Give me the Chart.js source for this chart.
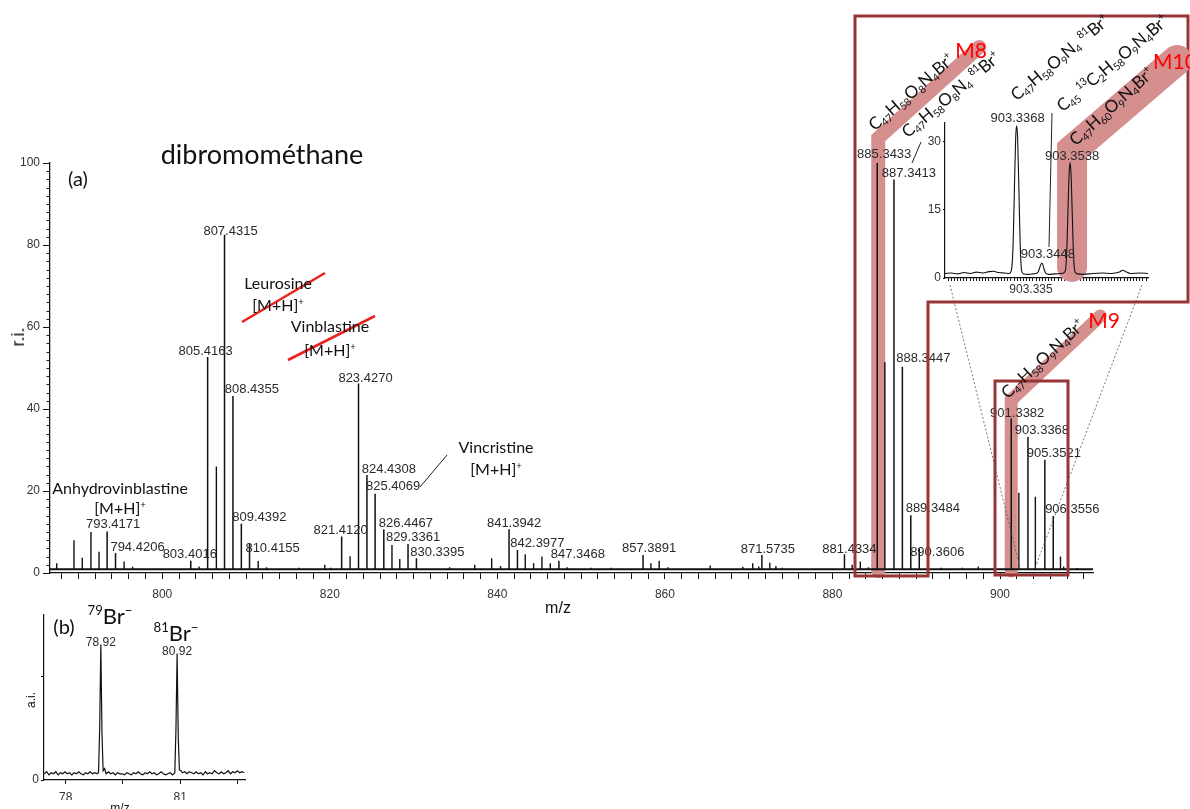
<!DOCTYPE html>
<html>
<head>
<meta charset="utf-8">
<title>dibromométhane</title>
<script src="https://cdn.jsdelivr.net/npm/chart.js@4.4.1/dist/chart.umd.min.js"></script>
<style>
html, body { margin: 0; padding: 0; background: #fff; }
#page { position: relative; width: 1190px; height: 809px; overflow: hidden; font-family: Lato, "Open Sans", sans-serif; color: #111; }
canvas { position: absolute; }
#main { left: 0; top: 0; }
#inset { left: 880px; top: 20px; }
#panelB { left: 0; top: 600px; }
.c { position: absolute; transform: translate(-50%, -50%); white-space: nowrap; line-height: 1; }
.ann { font-size: 16px; }
.c sup { font-size: 0.6em; vertical-align: 0.65em; line-height: 0; }
.ax { font-family: "Liberation Sans", Arial, sans-serif; }
.f { position: absolute; white-space: nowrap; line-height: 1; font-size: 17px; letter-spacing: -0.3px; transform-origin: 0 100%; }
.f sub { font-size: 0.62em; vertical-align: -0.3em; line-height: 0; }
.f sup { font-size: 0.62em; vertical-align: 0.65em; line-height: 0; }
.m { position: absolute; color: #ff0000; font-size: 21px; line-height: 1; transform: translate(-50%, -50%); }
</style>
</head>
<body>
<div id="page">
  <canvas id="main" width="1190" height="809"></canvas>
  <canvas id="inset" width="310" height="290"></canvas>
  <canvas id="panelB" width="260" height="209"></canvas>

  <!-- panel (a) texts -->
  <div class="c" style="left:262px;top:153px;font-size:27px;">dibromométhane</div>
  <div class="c" style="left:78px;top:178px;font-size:20px;">(a)</div>
  <div class="c ax" style="left:18px;top:337px;font-size:18px;transform:translate(-50%,-50%) rotate(-90deg);">r.i.</div>
  <div class="c ax" style="left:558px;top:608px;font-size:16px;">m/z</div>

  <div class="c ann" style="left:120px;top:488px;">Anhydrovinblastine</div>
  <div class="c ann" style="left:120px;top:508px;">[M+H]<sup>+</sup></div>
  <div class="c ann" style="left:278px;top:283px;">Leurosine</div>
  <div class="c ann" style="left:278px;top:305px;">[M+H]<sup>+</sup></div>
  <div class="c ann" style="left:330px;top:326px;">Vinblastine</div>
  <div class="c ann" style="left:330px;top:350px;">[M+H]<sup>+</sup></div>
  <div class="c ann" style="left:496px;top:447px;">Vincristine</div>
  <div class="c ann" style="left:496px;top:469px;">[M+H]<sup>+</sup></div>

  <!-- formulas along the highlight bands -->
  <div class="f" style="left:876px;bottom:676px;transform:rotate(-41deg);">C<sub>47</sub>H<sub>58</sub>O<sub>8</sub>N<sub>4</sub>Br<sup>+</sup></div>
  <div class="f" style="left:909px;bottom:669px;transform:rotate(-40deg);">C<sub>47</sub>H<sub>58</sub>O<sub>8</sub>N<sub>4</sub>&nbsp;<sup>81</sup>Br<sup>+</sup></div>
  <div class="f" style="left:1018px;bottom:706px;transform:rotate(-40deg);">C<sub>47</sub>H<sub>58</sub>O<sub>9</sub>N<sub>4</sub>&nbsp;<sup>81</sup>Br<sup>+</sup></div>
  <div class="f" style="left:1064px;bottom:695px;transform:rotate(-40deg);">C<sub>45</sub>&nbsp;<sup>13</sup>C<sub>2</sub>H<sub>58</sub>O<sub>9</sub>N<sub>4</sub>Br<sup>+</sup></div>
  <div class="f" style="left:1077px;bottom:661px;transform:rotate(-42deg);">C<sub>47</sub>H<sub>60</sub>O<sub>9</sub>N<sub>4</sub>Br<sup>+</sup></div>
  <div class="f" style="left:1009px;bottom:408px;transform:rotate(-43deg);">C<sub>47</sub>H<sub>58</sub>O<sub>9</sub>N<sub>4</sub>Br<sup>+</sup></div>
  <div class="m" style="left:971px;top:49px;">M8</div>
  <div class="m" style="left:1175px;top:60px;">M10</div>
  <div class="m" style="left:1104px;top:319px;">M9</div>

  <!-- panel (b) texts -->
  <div class="c" style="left:64px;top:626px;font-size:20px;">(b)</div>
  <div class="c" style="left:110px;top:616px;font-size:22px;"><sup>79</sup>Br<sup>&minus;</sup></div>
  <div class="c" style="left:176px;top:633px;font-size:22px;"><sup>81</sup>Br<sup>&minus;</sup></div>
  <div class="c ax" style="left:31px;top:700px;font-size:12px;transform:translate(-50%,-50%) rotate(-90deg);">a.i.</div>
  <div class="c ax" style="left:120px;top:808px;font-size:12px;">m/z</div>
</div>

<script>
// ---------- spectrum (a): labelled peaks ----------
const labeledMz = [793.4171, 794.4206, 803.4016, 805.4163, 807.4315, 808.4355, 809.4392, 810.4155,
  821.4120, 823.4270, 824.4308, 825.4069, 826.4467, 829.3361, 830.3395, 841.3942, 842.3977,
  847.3468, 857.3891, 871.5735, 881.4334, 885.3433, 887.3413, 888.3447, 889.3484, 890.3606,
  901.3382, 903.3368, 905.3521, 906.3556];
const labeledIntensity = [10.1, 4.9, 3.0, 52.7, 82.5, 43.2, 12.0, 7.3,
  8.9, 46.2, 23.9, 19.3, 10.7, 7.1, 3.6, 10.7, 5.6,
  3.0, 4.4, 4.4, 4.6, 100, 96.0, 50.3, 14.1, 6.0,
  37.7, 33.2, 27.6, 13.9];

// ---------- spectrum (a): other peaks ----------
const otherMz = [787.4, 789.46, 790.45, 791.49, 792.45, 795.45, 796.46, 804.40, 806.46, 811.45,
  812.45, 816.3, 819.40, 820.1, 822.42, 827.42, 828.35, 834.3, 837.30, 839.32, 840.38, 843.33,
  844.33, 845.32, 846.32, 848.33, 851.2, 853.6, 858.33, 859.32, 860.35, 865.4, 869.3, 870.48,
  871.2, 872.52, 873.25, 874.0, 882.35, 883.32, 884.3, 886.25, 891.3, 893.0, 895.5, 897.4,
  902.25, 904.22, 907.22, 907.6, 909.2];
const otherIntensity = [2.4, 8.0, 3.7, 10.0, 5.2, 2.8, 1.5, 1.6, 26.0, 2.9,
  1.4, 1.3, 2.0, 1.3, 4.1, 6.8, 3.4, 1.4, 2.0, 3.6, 1.7, 4.6,
  2.4, 4.0, 2.4, 1.4, 1.3, 1.3, 2.4, 3.0, 1.4, 1.8, 1.5, 2.4,
  1.6, 2.5, 1.7, 1.3, 2.0, 2.8, 1.4, 51.4, 1.3, 1.3, 1.3, 1.6,
  19.6, 18.6, 4.0, 1.6, 1.2];
const baselineLevel = 0.9;

// axis ticks of (a)
const mainXTickLabels = [800, 820, 840, 860, 880, 900];
const mainXMinorFirst = 788, mainXMinorLast = 910, mainXMinorStep = 2;
const mainYTickLabels = [0, 20, 40, 60, 80, 100];
const mainYMinorStep = 2;

// label placement next to each labelled peak (pixels)
const labelShift = [[6,-7],[22,-5],[-1,-6],[-2,-6],[6,-3],[19,-6],[18,-6],[23,5],
  [-1,-6],[7,-5],[22,-6],[18,-7],[22,-6],[5,-6],[21,-6],[5,-6],[20,-7],
  [19,-6],[6,-7],[6,-6],[5,-5],[7,-9],[15,-6],[21,-8],[22,-7],[18,4],
  [6,-5],[14,-6],[9,-6],[19,-7]];

// ---------- zoomed profile around 903.34 ----------
const insetMz = [903.3140, 903.3160, 903.3180, 903.3200, 903.3220, 903.3240, 903.3260, 903.3280,
  903.3295, 903.3310, 903.3330, 903.3345, 903.3352, 903.3357, 903.3361, 903.3365, 903.3368,
  903.3371, 903.3375, 903.3379, 903.3384, 903.3390, 903.3405, 903.3420, 903.3435, 903.3441,
  903.3445, 903.3448, 903.3451, 903.3455, 903.3461, 903.3470, 903.3490, 903.3510, 903.3522,
  903.3527, 903.3531, 903.3535, 903.3538, 903.3541, 903.3545, 903.3549, 903.3554, 903.3562,
  903.3580, 903.3610, 903.3640, 903.3670, 903.3695, 903.3705, 903.3715, 903.3730, 903.3760,
  903.3786];
const insetIntensity = [1.0, 1.1, 0.9, 1.2, 1.0, 1.3, 1.1, 1.4,
  1.5, 1.2, 1.1, 1.0, 2.0, 8.0, 20.0, 31.0, 33.5,
  31.0, 20.0, 8.0, 1.5, 0.9, 0.8, 0.9, 1.2, 2.2,
  3.0, 3.3, 3.0, 2.0, 1.0, 0.8, 0.9, 1.0, 1.4,
  5.0, 14.0, 23.0, 25.4, 23.0, 14.0, 5.0, 1.3, 0.9,
  0.8, 1.0, 1.1, 1.0, 1.3, 1.7, 1.4, 1.0, 1.1,
  1.0];
const insetLabelMz = [903.3368, 903.3448, 903.3538];
const insetLabelIntensity = [33.5, 3.3, 25.4];
const insetLabelShift = [[1,-7],[6,-9],[2,-6]];
const insetXTickLabels = [903.335];
const insetXMinorFirst = 903.315, insetXMinorCount = 63, insetXMinorStep = 0.001;
const insetYTickLabels = [0, 15, 30];

// ---------- spectrum (b): bromide ions ----------
const panelBMz = [77.44, 77.50, 77.56, 77.62, 77.68, 77.74, 77.80, 77.86, 77.92, 77.98, 78.04, 78.10,
  78.16, 78.22, 78.28, 78.34, 78.40, 78.46, 78.52, 78.58, 78.64, 78.70, 78.76, 78.82, 78.86,
  78.89, 78.92, 78.95, 78.98, 79.02, 79.06, 79.12, 79.18, 79.24, 79.30, 79.36, 79.42, 79.48,
  79.54, 79.60, 79.66, 79.72, 79.78, 79.84, 79.90, 79.96, 80.02, 80.08, 80.14, 80.20, 80.26,
  80.32, 80.38, 80.44, 80.50, 80.56, 80.62, 80.68, 80.74, 80.80, 80.86, 80.89, 80.92, 80.95,
  80.98, 81.02, 81.06, 81.12, 81.18, 81.24, 81.30, 81.36, 81.42, 81.48, 81.54, 81.60, 81.66,
  81.72, 81.78, 81.84, 81.90, 81.96, 82.02, 82.08, 82.14, 82.20, 82.26, 82.32, 82.38, 82.44,
  82.50, 82.56, 82.62, 82.68];
const panelBIntensity = [0.06, 0.08, 0.05, 0.07, 0.06, 0.08, 0.05, 0.07, 0.06, 0.08, 0.06, 0.07,
  0.05, 0.07, 0.06, 0.08, 0.06, 0.05, 0.07, 0.06, 0.08, 0.06, 0.07, 0.06, 0.07,
  0.50, 1.307, 0.45, 0.09, 0.11, 0.06, 0.08, 0.06, 0.07, 0.05, 0.07, 0.06, 0.06,
  0.05, 0.07, 0.06, 0.05, 0.07, 0.06, 0.08, 0.06, 0.05, 0.07, 0.06, 0.08, 0.06,
  0.07, 0.05, 0.06, 0.08, 0.06, 0.05, 0.06, 0.07, 0.05, 0.07, 0.50, 1.22, 0.42,
  0.10, 0.09, 0.07, 0.08, 0.06, 0.08, 0.07, 0.06, 0.08, 0.06, 0.07, 0.05, 0.08,
  0.06, 0.07, 0.06, 0.09, 0.07, 0.06, 0.08, 0.06, 0.07, 0.09, 0.06, 0.08, 0.07,
  0.09, 0.07, 0.08, 0.07];
const panelBLabelMz = [78.92, 80.92];
const panelBLabelIntensity = [1.307, 1.22];
const panelBXTicks = [78, 79.5, 81, 82.5];
const panelBXTickLabels = [78, 81];
const panelBYTicks = [0, 1];

// ---------- styling ----------
const INK = '#111';
const LABEL_INK = '#2a2a2a';
const BAND = 'rgb(214,143,143)';
const BOX = '#973434';
const STRIKE = '#e8241c';
const LABEL_FONT = '13px "Liberation Sans", Arial, sans-serif';

Chart.defaults.font.family = '"Liberation Sans", Arial, sans-serif';
Chart.defaults.color = '#333';

function stickData(mz, intensity, base) {
  const out = [];
  mz.forEach((m, i) => {
    out.push({ x: m, y: base }, { x: m, y: intensity[i] }, { x: m, y: null });
  });
  return out;
}

function strokePath(ctx, pts, width, color, cap) {
  ctx.beginPath();
  ctx.moveTo(pts[0][0], pts[0][1]);
  for (let i = 1; i < pts.length; i++) ctx.lineTo(pts[i][0], pts[i][1]);
  ctx.lineWidth = width;
  ctx.strokeStyle = color;
  ctx.lineCap = cap || 'butt';
  ctx.lineJoin = 'miter';
  ctx.stroke();
}

function drawPeakLabels(chart, mzs, ints, shifts) {
  const { ctx, scales: { x, y } } = chart;
  ctx.save();
  ctx.font = LABEL_FONT;
  ctx.fillStyle = LABEL_INK;
  ctx.textAlign = 'center';
  ctx.textBaseline = 'middle';
  mzs.forEach((m, i) => {
    const [dx, dy] = shifts[i];
    ctx.fillText(m.toFixed(chart.options.labelDigits), x.getPixelForValue(m) + dx, y.getPixelForValue(ints[i]) + dy);
  });
  ctx.restore();
}

// ---------- chart (a) ----------
const mainDecor = {
  id: 'mainDecor',
  beforeDatasetsDraw(chart) {
    const { ctx, scales: { x } } = chart;
    ctx.save();
    // highlight bands following the M8 and M9 monoisotopic peaks
    const m8 = x.getPixelForValue(885.3433) + 1;
    strokePath(ctx, [[m8, 571], [m8, 138], [m8 + 101, 47]], 14, BAND, 'round');
    const m9 = x.getPixelForValue(901.3382);
    strokePath(ctx, [[m9, 571], [m9, 400], [m9 + 89, 316]], 13, BAND, 'round');
    ctx.restore();
  },
  afterDatasetsDraw(chart) {
    drawPeakLabels(chart, labeledMz, labeledIntensity, labelShift);
  },
  afterDraw(chart) {
    const { ctx, chartArea, scales: { y } } = chart;
    ctx.save();
    // minor ticks on the intensity axis
    ctx.strokeStyle = INK;
    ctx.lineWidth = 1;
    for (let v = 0; v <= 100; v += mainYMinorStep) {
      if (mainYTickLabels.includes(v)) continue;
      const py = Math.round(y.getPixelForValue(v)) + 0.5;
      ctx.beginPath();
      ctx.moveTo(chartArea.left - 3.5, py);
      ctx.lineTo(chartArea.left, py);
      ctx.stroke();
    }
    // frames around the zoomed regions
    ctx.lineJoin = 'miter';
    ctx.beginPath();
    ctx.moveTo(855, 16); ctx.lineTo(1188, 16); ctx.lineTo(1188, 302); ctx.lineTo(928, 302);
    ctx.lineTo(928, 576); ctx.lineTo(855, 576); ctx.closePath();
    ctx.lineWidth = 3; ctx.strokeStyle = BOX; ctx.stroke();
    ctx.strokeRect(995, 381, 73, 194);
    // struck-out assignments
    strokePath(ctx, [[242, 322], [325, 273]], 2.6, STRIKE);
    strokePath(ctx, [[288, 360], [375, 316]], 2.6, STRIKE);
    // leader lines
    strokePath(ctx, [[447, 455], [420, 487]], 1, '#222');
    strokePath(ctx, [[921, 142], [912, 163]], 1, '#222');
    strokePath(ctx, [[1052, 113], [1049, 247]], 1, '#222');
    // connectors from the zoomed profile down to the isotope cluster
    ctx.setLineDash([2, 2]);
    strokePath(ctx, [[950, 285], [1020, 568]], 0.8, '#555');
    strokePath(ctx, [[1142, 285], [1035, 568]], 0.8, '#555');
    ctx.restore();
  }
};

const mainXTickValues = [];
for (let v = mainXMinorFirst; v <= mainXMinorLast; v += mainXMinorStep) mainXTickValues.push(v);

new Chart(document.getElementById('main'), {
  type: 'scatter',
  data: {
    datasets: [
      { data: [{ x: 786.6, y: baselineLevel }, { x: 911.1, y: baselineLevel }], showLine: true, borderColor: INK, borderWidth: 2, pointRadius: 0 },
      { data: stickData(otherMz, otherIntensity, baselineLevel), showLine: true, spanGaps: false, borderColor: INK, borderWidth: 1.4, pointRadius: 0 },
      { data: stickData(labeledMz, labeledIntensity, baselineLevel), showLine: true, spanGaps: false, borderColor: INK, borderWidth: 1.5, pointRadius: 0 }
    ]
  },
  options: {
    responsive: false, devicePixelRatio: 1, animation: false,
    labelDigits: 4,
    layout: { padding: { left: 0, right: 97, top: 163, bottom: 196 } },
    plugins: { legend: { display: false }, tooltip: { enabled: false } },
    elements: { point: { radius: 0 }, line: { tension: 0 } },
    scales: {
      x: {
        type: 'linear', min: 786.6, max: 911.1,
        afterFit(s) { s.height = 40; },
        afterBuildTicks(s) { s.ticks = mainXTickValues.map(v => ({ value: v })); },
        ticks: { autoSkip: false, maxRotation: 0, padding: 8, font: { size: 12 }, color: '#333',
          callback: v => mainXTickLabels.includes(v) ? String(v) : '' },
        grid: { drawOnChartArea: false, drawTicks: true, tickLength: 6, color: INK, lineWidth: 1 },
        border: { display: true, color: INK, width: 1.3 }
      },
      y: {
        type: 'linear', min: 0, max: 100,
        afterFit(s) { s.width = 50; },
        afterBuildTicks(s) { s.ticks = mainYTickLabels.map(v => ({ value: v })); },
        ticks: { padding: 3, font: { size: 12 }, color: '#333' },
        grid: { drawOnChartArea: false, drawTicks: true, tickLength: 7, color: INK, lineWidth: 1 },
        border: { display: true, color: INK, width: 1.3 }
      }
    }
  },
  plugins: [mainDecor]
});

// ---------- zoomed profile ----------
const insetXTickValues = [];
for (let k = 0; k <= insetXMinorCount; k++) insetXTickValues.push(+(insetXMinorFirst + k * insetXMinorStep).toFixed(3));

const insetDecor = {
  id: 'insetDecor',
  beforeDatasetsDraw(chart) {
    const { ctx, scales: { x } } = chart;
    ctx.save();
    const m10 = x.getPixelForValue(903.3538) + 2;
    strokePath(ctx, [[m10, 247], [m10, 130], [m10 + 105, 40]], 30, BAND, 'round');
    ctx.restore();
  },
  afterDatasetsDraw(chart) {
    drawPeakLabels(chart, insetLabelMz, insetLabelIntensity, insetLabelShift);
  }
};

new Chart(document.getElementById('inset'), {
  type: 'scatter',
  data: {
    datasets: [{
      data: insetMz.map((m, i) => ({ x: m, y: insetIntensity[i] })),
      showLine: true, borderColor: INK, borderWidth: 1.1, pointRadius: 0, cubicInterpolationMode: 'monotone'
    }]
  },
  options: {
    responsive: false, devicePixelRatio: 1, animation: false,
    labelDigits: 4,
    layout: { padding: { left: 15, right: 42, top: 103, bottom: 12 } },
    plugins: { legend: { display: false }, tooltip: { enabled: false } },
    scales: {
      x: {
        type: 'linear', min: 903.3140, max: 903.3786,
        afterFit(s) { s.height = 20; },
        afterBuildTicks(s) { s.ticks = insetXTickValues.map(v => ({ value: v })); },
        ticks: { autoSkip: false, maxRotation: 0, padding: 1, labelOffset: 20, font: { size: 12 }, color: '#333',
          callback: v => insetXTickLabels.some(t => Math.abs(t - v) < 1e-7) ? v.toFixed(3) : '' },
        grid: { drawOnChartArea: false, drawTicks: true, tickLength: 3, color: INK, lineWidth: 1 },
        border: { display: true, color: INK, width: 1.2 }
      },
      y: {
        type: 'linear', min: 0, max: 34.1,
        afterFit(s) { s.width = 50; },
        afterBuildTicks(s) { s.ticks = insetYTickLabels.map(v => ({ value: v })); },
        ticks: { padding: 2, font: { size: 12 }, color: '#333' },
        grid: { drawOnChartArea: false, drawTicks: true, tickLength: 2, color: INK },
        border: { display: true, color: INK, width: 1.2 }
      }
    }
  },
  plugins: [insetDecor]
});

// ---------- chart (b) ----------
const panelBDecor = {
  id: 'panelBDecor',
  afterDatasetsDraw(chart) {
    const { ctx, scales: { x, y } } = chart;
    ctx.save();
    ctx.font = '12px "Liberation Sans", Arial, sans-serif';
    ctx.fillStyle = LABEL_INK;
    ctx.textAlign = 'center';
    ctx.textBaseline = 'middle';
    panelBLabelMz.forEach((m, i) => {
      ctx.fillText(m.toFixed(2), x.getPixelForValue(m), y.getPixelForValue(panelBLabelIntensity[i]) - 3);
    });
    ctx.restore();
  }
};

new Chart(document.getElementById('panelB'), {
  type: 'scatter',
  data: {
    datasets: [{
      data: panelBMz.map((m, i) => ({ x: m, y: panelBIntensity[i] })),
      showLine: true, borderColor: INK, borderWidth: 1.2, pointRadius: 0
    }]
  },
  options: {
    responsive: false, devicePixelRatio: 1, animation: false,
    layout: { padding: { left: 0, right: 15, top: 15, bottom: 9 } },
    plugins: { legend: { display: false }, tooltip: { enabled: false } },
    scales: {
      x: {
        type: 'linear', min: 77.43, max: 82.7,
        afterFit(s) { s.height = 20; },
        afterBuildTicks(s) { s.ticks = panelBXTicks.map(v => ({ value: v })); },
        ticks: { autoSkip: false, maxRotation: 0, padding: 6, font: { size: 12 }, color: '#333',
          callback: v => panelBXTickLabels.includes(v) ? String(v) : '' },
        grid: { drawOnChartArea: false, drawTicks: true, tickLength: 4, color: INK },
        border: { display: true, color: INK, width: 1.2 }
      },
      y: {
        type: 'linear', min: 0, max: 1.6,
        afterFit(s) { s.width = 44; },
        afterBuildTicks(s) { s.ticks = panelBYTicks.map(v => ({ value: v })); },
        ticks: { padding: 2, font: { size: 12 }, color: '#333', callback: v => v === 0 ? '0' : '' },
        grid: { drawOnChartArea: false, drawTicks: true, tickLength: 3, color: INK },
        border: { display: true, color: INK, width: 1.2 }
      }
    }
  },
  plugins: [panelBDecor]
});
</script>
</body>
</html>
